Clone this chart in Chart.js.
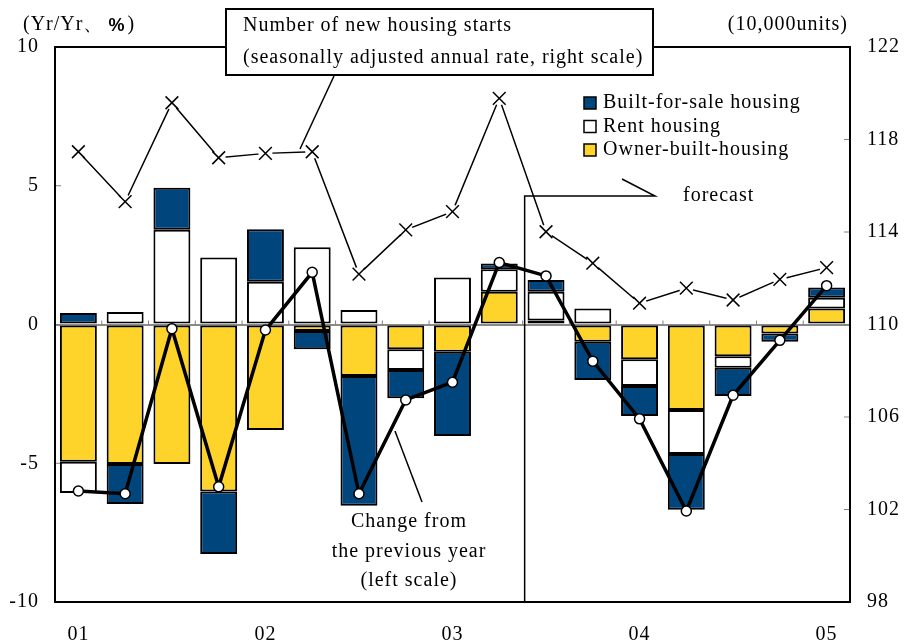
<!DOCTYPE html>
<html lang="en">
<head>
<meta charset="UTF-8">
<title>Housing starts</title>
<script src="https://cdn.jsdelivr.net/npm/chart.js"></script>
<style>
  body { margin: 0; background: #fff; }
  canvas { display: block; }
</style>
</head>
<body>
<canvas id="chart" width="905" height="643"></canvas>
<script>
// quarters 2001Q1 .. 2005Q1
const categories = ['01', '', '', '', '02', '', '', '', '03', '', '', '', '04', '', '', '', '05'];

// contributions to yr/yr change (%, left scale)
const ownerBuilt   = [-4.95, -5.03, -5.03, -6.02, -3.80, -0.23, -1.86, -0.89, -0.98, 1.18, 0.14, -0.62, -1.25, -3.08, -1.14, -0.32, 0.58];
const rentHousing  = [-1.12, 0.45, 3.41, 2.41, 1.54, 2.78, 0.52, -0.75, 1.69, 0.81, 1.04, 0.58, -0.97, -1.59, -0.42, 0, 0.38];
const builtForSale = [0.41, -1.44, 1.52, -2.25, 1.89, -0.66, -4.67, -1.02, -3.04, 0.21, 0.42, -1.38, -1.08, -2.01, -1.02, -0.30, 0.37];
const yoyChange    = [-6.00, -6.10, -0.15, -5.85, -0.20, 1.88, -6.10, -2.72, -2.08, 2.23, 1.75, -1.32, -3.40, -6.72, -2.55, -0.57, 1.40];

// new housing starts, 10,000 units (right scale)
const housingStarts = [117.47, 115.31, 119.59, 117.21, 117.40, 117.47, 112.18, 114.09, 114.88, 119.78, 114.01, 112.65, 110.92, 111.57, 111.06, 111.95, 112.46];

const leftTicks = [-10, -5, 0, 5, 10];
const rightTicks = [98, 102, 106, 110, 114, 118, 122];

const NAVY = '#00457c';
const YELLOW = '#ffd42a';
const SERIF = "'Liberation Serif', 'Times New Roman', serif";
const FONT_SIZE = 20;

function line(ctx, x1, y1, x2, y2) {
    ctx.beginPath(); ctx.moveTo(x1, y1); ctx.lineTo(x2, y2); ctx.stroke();
}

const overlay = {
    id: 'overlay',
    beforeDraw(chart) {
        // the original uses a slightly spaced-out serif everywhere
        chart.ctx.letterSpacing = '1px';
    },
    beforeDatasetsDraw(chart) {
        const { ctx, chartArea: a, scales: { x, y, y1 } } = chart;
        ctx.save();
        ctx.strokeStyle = '#808080';
        ctx.lineWidth = 1;
        const y0 = y.getPixelForValue(0);
        for (let i = 1; i < categories.length; i++) {
            const bx = (x.getPixelForValue(i - 1) + x.getPixelForValue(i)) / 2;
            line(ctx, bx, y0, bx, y0 - 4);
        }
        leftTicks.slice(1, -1).forEach(v => { const py = y.getPixelForValue(v); line(ctx, a.left, py, a.left + 6, py); });
        rightTicks.slice(1, -1).forEach(v => { const py = y1.getPixelForValue(v); line(ctx, a.right - 6, py, a.right, py); });

        // forecast bracket
        const fx = (x.getPixelForValue(9) + x.getPixelForValue(10)) / 2 + 2;
        ctx.strokeStyle = '#000';
        ctx.lineWidth = 1.5;
        ctx.beginPath();
        ctx.moveTo(fx, a.bottom);
        ctx.lineTo(fx, 196);
        ctx.lineTo(655, 196);
        ctx.lineTo(622, 179);
        ctx.stroke();
        ctx.restore();
    },
    afterDraw(chart) {
        const { ctx, chartArea: a } = chart;
        ctx.save();
        ctx.strokeStyle = '#000';
        ctx.lineWidth = 2;
        ctx.strokeRect(a.left, a.top, a.right - a.left, a.bottom - a.top);

        ctx.fillStyle = '#000';
        ctx.textBaseline = 'middle';
        ctx.font = FONT_SIZE + 'px ' + SERIF;

        // headers
        let hx = 23;
        ctx.textAlign = 'left';
        ctx.fillText('(Yr/Yr\u3001', hx, 25);
        hx += ctx.measureText('(Yr/Yr\u3001').width + 4;
        ctx.font = "bold 18px 'Liberation Sans', sans-serif";
        ctx.fillText('%', hx, 26);
        hx += ctx.measureText('%').width + 2;
        ctx.font = FONT_SIZE + 'px ' + SERIF;
        ctx.fillText(')', hx, 25);
        ctx.textAlign = 'right';
        ctx.fillText('(10,000units)', 848, 25);

        // housing starts callout
        ctx.lineWidth = 1.5;
        line(ctx, 334, 76, 300, 149);
        ctx.fillStyle = '#fff';
        ctx.fillRect(226, 9, 427, 66);
        ctx.lineWidth = 2;
        ctx.strokeRect(226, 9, 427, 66);
        ctx.fillStyle = '#000';
        ctx.textAlign = 'left';
        ctx.fillText('Number of new housing starts', 243, 26);
        ctx.fillText('(seasonally adjusted annual rate, right scale)', 243, 58);

        // change callout
        ctx.lineWidth = 1.5;
        line(ctx, 395, 431, 422, 502);
        ctx.textAlign = 'center';
        ctx.fillText('Change from', 409, 522);
        ctx.fillText('the previous year', 409, 552);
        ctx.fillText('(left scale)', 409, 581);

        ctx.textAlign = 'left';
        ctx.fillText('forecast', 683, 196);

        // legend
        const items = [['Built-for-sale housing', NAVY], ['Rent housing', '#fff'], ['Owner-built-housing', YELLOW]];
        items.forEach(([label, color], i) => {
            const ly = 103 + i * 23.5;
            ctx.fillStyle = color;
            ctx.fillRect(584, ly - 6, 12, 12);
            ctx.lineWidth = 1.5;
            ctx.strokeRect(584, ly - 6, 12, 12);
            ctx.fillStyle = '#000';
            ctx.fillText(label, 603, ly);
        });
        ctx.restore();
    }
};

const barStyle = { borderColor: '#000', borderWidth: 2, borderSkipped: false, stack: 'parts', yAxisID: 'y', order: 10, barPercentage: 0.79, categoryPercentage: 1 };
const tickFont = { family: SERIF, size: FONT_SIZE };

new Chart(document.getElementById('chart').getContext('2d'), {
    type: 'bar',
    data: {
        labels: categories,
        datasets: [
            { label: 'Owner-built-housing', data: ownerBuilt, backgroundColor: YELLOW, ...barStyle },
            { label: 'Rent housing', data: rentHousing, backgroundColor: '#fff', ...barStyle },
            { label: 'Built-for-sale housing', data: builtForSale, backgroundColor: NAVY, ...barStyle },
            { type: 'line', label: 'starts line', data: housingStarts, yAxisID: 'y1', borderColor: '#000', borderWidth: 1.5, pointRadius: 0, order: 5 },
            { type: 'line', label: 'starts halo', data: housingStarts, yAxisID: 'y1', showLine: false, pointStyle: 'circle', pointRadius: 7, pointBackgroundColor: '#fff', pointBorderWidth: 0, order: 4 },
            { type: 'line', label: 'Number of new housing starts', data: housingStarts, yAxisID: 'y1', showLine: false, pointStyle: 'crossRot', pointRadius: 9, pointBorderColor: '#000', pointBorderWidth: 1.5, order: 3 },
            { type: 'line', label: 'Change from the previous year', data: yoyChange, yAxisID: 'y', stack: 'change', borderColor: '#000', borderWidth: 3.5, pointStyle: 'circle', pointRadius: 5, pointBackgroundColor: '#fff', pointBorderColor: '#000', pointBorderWidth: 1.5, order: 1 }
        ]
    },
    options: {
        responsive: false,
        animation: false,
        layout: { padding: { top: 47 } },
        plugins: { legend: { display: false }, tooltip: { enabled: false } },
        scales: {
            x: {
                stacked: true,
                grid: { display: false, drawTicks: false },
                border: { display: false },
                ticks: { autoSkip: false, maxRotation: 0, padding: 21, color: '#000', font: tickFont },
                afterFit: s => { s.height = 41; }
            },
            y: {
                stacked: true,
                position: 'left',
                min: -10, max: 10,
                afterBuildTicks: s => { s.ticks = leftTicks.map(v => ({ value: v })); },
                grid: { drawTicks: false, lineWidth: 2, color: c => c.tick && c.tick.value === 0 ? '#8a8a8a' : 'rgba(0,0,0,0)' },
                border: { display: false },
                ticks: { padding: 16, color: '#000', font: tickFont },
                afterFit: s => { s.width = 55; }
            },
            y1: {
                position: 'right',
                min: 98, max: 122,
                afterBuildTicks: s => { s.ticks = rightTicks.map(v => ({ value: v })); },
                grid: { display: false, drawTicks: false },
                border: { display: false },
                ticks: { padding: 17, color: '#000', font: tickFont },
                afterFit: s => { s.width = 55; }
            }
        }
    },
    plugins: [overlay]
});
</script>
</body>
</html>
